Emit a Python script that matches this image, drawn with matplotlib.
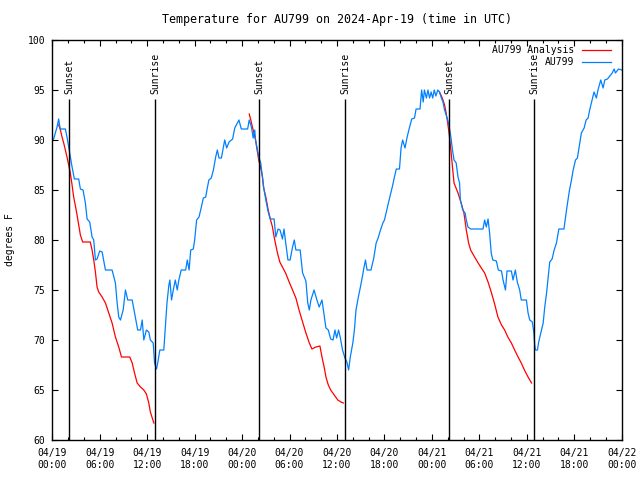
import numpy as np
import pandas as pd
import matplotlib
matplotlib.use("Agg")
import matplotlib.pyplot as plt
import matplotlib.dates as mdates

# hours after 2024-04-19 00:00 UTC, temperatures in degrees F
start = pd.Timestamp("2024-04-19 00:00")

obs_hours = [0.0, 0.17, 0.6, 0.8, 1.0, 1.65, 1.86, 2.07, 2.28, 2.5, 2.79, 3.34, 3.55, 3.89, 4.18, 4.4,
             4.73, 5.03, 5.24, 5.45, 5.66, 6.0, 6.3, 6.72, 7.56, 7.98, 8.2, 8.4, 8.62, 8.96, 9.25, 9.54,
             10.1, 10.5, 10.8, 11.15, 11.37, 11.57, 11.9, 12.2, 12.4, 12.76, 12.93, 13.18, 13.35, 13.6,
             14.1, 14.3, 14.5, 14.74, 14.87, 15.08, 15.3, 15.55, 15.8, 16.0, 16.3, 16.86, 17.07, 17.3,
             17.5, 17.83, 18.0, 18.25, 18.55, 18.85, 19.1, 19.4, 19.6, 19.8, 20.1, 20.37, 20.66, 20.87,
             21.08, 21.38, 21.63, 21.8, 22.05, 22.35, 22.8, 23.07, 23.4, 23.6, 23.9, 24.7, 24.9, 25.18,
             25.4, 25.6, 25.7, 25.9, 26.1, 26.36, 26.58, 26.78, 27.0, 27.3, 27.55, 28.05, 28.26, 28.55,
             28.8, 29.1, 29.3, 29.5, 29.8, 30.07, 30.38, 30.6, 30.8, 31.34, 31.65, 32.07, 32.3, 32.5,
             32.7, 33.1, 33.46, 33.75, 34.1, 34.4, 34.6, 34.9, 35.2, 35.5, 35.74, 35.95, 36.2, 36.4,
             36.7, 37.0, 37.25, 37.47, 37.68, 38.0, 38.2, 38.4, 38.7, 38.96, 39.2, 39.4, 39.6, 39.8,
             40.3, 40.65, 40.95, 41.2, 41.5, 41.8, 42.0, 42.2, 42.5, 42.75, 43.05, 43.26, 43.5, 43.9,
             44.1, 44.3, 44.6, 44.87, 45.15, 45.45, 45.8, 46.0, 46.5, 46.7, 46.9, 47.05, 47.3, 47.5,
             47.7, 47.9, 48.1, 48.3, 48.5, 48.75, 48.96, 49.2, 49.4, 49.6, 50.0, 50.2, 50.4, 50.6,
             50.8, 51.07, 51.3, 51.5, 51.6, 51.9, 52.2, 52.35, 52.56, 52.9, 54.46, 54.67, 54.88, 55.1,
             55.3, 55.5, 55.7, 56.15, 56.4, 56.8, 57.0, 57.3, 57.5, 58.05, 58.26, 58.55, 58.8, 59.1,
             59.3, 59.95, 60.16, 60.37, 60.7, 60.9, 61.0, 61.1, 61.35, 61.5, 61.77, 62.07, 62.27, 62.5,
             62.7, 62.9, 63.2, 63.46, 63.75, 64.05, 64.7, 64.9, 65.15, 65.4, 65.65, 65.86, 66.16, 66.4,
             66.7, 66.9, 67.25, 67.5, 67.75, 67.95, 68.25, 68.5, 68.8, 69.0, 69.35, 69.65, 69.86, 70.2,
             70.8, 71.05, 71.2, 71.6, 72.0]
obs_temps = [90.0, 90.1, 91.3, 92.1, 91.1, 91.1, 90.3, 89.3, 88.3, 87.3, 86.1, 86.1, 85.1, 85.0, 83.7, 82.1,
             81.8, 80.3, 80.0, 78.0, 78.1, 78.9, 78.8, 77.0, 77.0, 75.7, 73.7, 72.3, 72.0, 73.0, 75.0, 74.0,
             74.0, 72.3, 71.0, 71.0, 72.0, 70.0, 71.0, 70.8, 70.0, 69.7, 67.7, 67.1, 67.8, 69.0,
             69.0, 71.3, 73.7, 75.5, 76.0, 74.0, 75.0, 76.0, 75.0, 76.0, 77.0, 77.0, 78.0, 77.0,
             79.0, 79.1, 80.0, 82.0, 82.3, 83.3, 84.2, 84.3, 85.2, 86.0, 86.2, 87.0, 88.3, 89.0,
             88.2, 88.2, 89.3, 90.0, 89.2, 89.8, 90.1, 91.2, 91.7, 92.0, 91.1, 91.1, 92.0, 91.3,
             90.2, 91.0, 90.0, 89.2, 88.3, 87.7, 86.2, 85.0, 84.0, 82.8, 82.1, 82.1, 80.3, 81.1,
             81.0, 80.1, 81.1, 79.8, 78.0, 78.0, 79.3, 80.0, 79.0, 79.0, 76.7, 75.9, 73.7, 73.0,
             74.0, 75.0, 74.0, 73.3, 74.0, 72.3, 71.2, 71.0, 70.1, 70.0, 71.0, 70.2, 71.0, 70.3,
             69.0, 68.2, 67.8, 67.0, 68.3, 69.7, 71.0, 73.0, 74.3, 75.3, 76.3, 77.2, 78.0, 77.0,
             77.0, 78.2, 79.7, 80.2, 81.0, 81.7, 82.0, 82.7, 83.7, 84.5, 85.5, 86.3, 87.1, 87.1,
             89.2, 90.0, 89.2, 90.3, 91.2, 92.1, 92.2, 93.1, 93.1, 95.0, 93.8, 95.0, 94.2, 95.0,
             94.2, 94.8, 94.2, 95.0, 94.4, 95.0, 94.8, 94.2, 93.8, 93.0, 92.0, 91.3, 90.3, 89.0,
             88.0, 87.7, 86.3, 85.7, 84.0, 83.0, 82.7, 82.0, 81.3, 81.1, 81.1, 82.0, 81.3, 82.1,
             80.7, 78.7, 78.0, 77.9, 77.0, 76.9, 76.0, 75.0, 76.9, 76.9, 76.0, 77.0, 75.8, 75.0,
             74.0, 74.0, 72.7, 72.0, 71.8, 70.7, 69.5, 69.0, 69.0, 69.8, 70.7, 71.7, 73.3, 74.7,
             76.3, 77.8, 78.1, 79.0, 79.7, 81.1, 81.1, 82.3, 83.7, 85.0, 86.0, 87.0, 88.0, 88.2,
             89.7, 90.7, 91.2, 92.0, 92.2, 93.0, 94.0, 94.8, 94.2, 95.0, 96.0, 95.2, 96.0, 96.1,
             96.7, 97.1, 96.7, 97.1, 97.0]

# analysis: three separate night-time segments
ana1_hours = [0.8, 1.0, 1.23, 1.44, 1.65, 1.86, 2.07, 2.28, 2.5, 2.7, 2.9, 3.13, 3.34, 3.55, 3.84, 4.8,
              5.03, 5.24, 5.45, 5.66, 5.87, 6.3, 6.72, 7.14, 7.56, 7.98, 8.4, 8.75, 9.25, 9.8, 10.1,
              10.4, 10.73, 11.15, 11.57, 11.9, 12.2, 12.4, 12.64, 12.84]
ana1_temps = [91.5, 91.1, 90.3, 89.7, 89.0, 88.3, 87.5, 86.7, 85.5, 84.3, 83.5, 82.5, 81.5, 80.5, 79.8, 79.8,
              79.0, 78.0, 76.8, 75.3, 74.8, 74.3, 73.7, 72.7, 71.7, 70.3, 69.3, 68.3, 68.3, 68.3, 67.7,
              66.7, 65.7, 65.3, 65.0, 64.6, 63.7, 62.8, 62.2, 61.7]
ana2_hours = [24.9, 25.1, 25.3, 25.5, 25.7, 25.9, 26.1, 26.36, 26.58, 26.7, 27.0, 27.3, 27.6, 27.84, 28.05,
              28.26, 28.47, 28.77, 29.1, 29.5, 29.95, 30.38, 30.8, 31.2, 31.65, 32.07, 32.5, 32.83, 33.33,
              33.84, 34.1, 34.4, 34.6, 34.9, 35.2, 35.65, 36.1, 36.5, 36.8]
ana2_temps = [92.6, 92.0, 91.3, 90.7, 90.0, 89.0, 88.0, 87.2, 86.3, 85.3, 84.3, 83.0, 82.0, 81.3, 80.3,
              79.5, 78.7, 77.8, 77.3, 76.7, 75.8, 75.0, 74.2, 73.0, 71.8, 70.7, 69.7, 69.1, 69.3,
              69.4, 68.3, 67.2, 66.3, 65.5, 65.0, 64.5, 64.0, 63.8, 63.7]
ana3_hours = [48.96, 49.2, 49.4, 49.6, 49.8, 50.0, 50.2, 50.4, 50.6, 50.8, 51.3, 51.7, 52.05, 52.35, 52.64,
              52.9, 53.4, 53.85, 54.25, 54.67, 55.1, 55.5, 55.9, 56.35, 56.8, 57.2, 57.6, 58.05, 58.46,
              58.9, 59.3, 59.7, 60.16, 60.6]
ana3_temps = [94.8, 94.4, 94.0, 93.5, 92.7, 91.7, 90.5, 89.0, 87.3, 85.7, 84.7, 83.7, 82.7, 81.0, 79.7,
              79.0, 78.3, 77.7, 77.2, 76.7, 75.8, 74.8, 73.7, 72.3, 71.5, 71.0, 70.3, 69.7, 69.0,
              68.3, 67.7, 67.0, 66.3, 65.7]

sun_hours = [2.15, 13.02, 26.18, 37.05, 50.2, 60.95]
sun_labels = ["Sunset", "Sunrise", "Sunset", "Sunrise", "Sunset", "Sunrise"]


def to_time(hours):
    return start + pd.to_timedelta(hours, unit="h")


plt.rcParams["font.family"] = ["DejaVu Sans Mono"]
plt.rcParams["font.size"] = 7

fig = plt.figure(figsize=(6.4, 4.8), dpi=100)
ax = fig.add_axes([52.3 / 640, 40 / 480, 569.4 / 640, 400 / 480])

ana_nan = [np.nan]
ana_h = ana1_hours + ana_nan + ana2_hours + ana_nan + ana3_hours
ana_t = ana1_temps + ana_nan + ana2_temps + ana_nan + ana3_temps

ax.plot(to_time(ana_h), ana_t, color="#ff0000", lw=0.9, label="AU799 Analysis")
ax.plot(to_time(obs_hours), obs_temps, color="#0080ff", lw=0.9, label="AU799")

ax.vlines(to_time(sun_hours), 60, 94.1, color="black", lw=1.0)
for h, lab in zip(sun_hours, sun_labels):
    ax.text(to_time(h), 94.6, lab, rotation=90, ha="center", va="bottom")

ax.set_xlim(start, start + pd.Timedelta(hours=72))
ax.set_ylim(60, 100)
ax.set_yticks(range(60, 101, 5))
ax.xaxis.set_major_locator(mdates.HourLocator(byhour=range(0, 24, 6)))
ax.xaxis.set_minor_locator(mdates.HourLocator(interval=2))
ax.xaxis.set_major_formatter(mdates.DateFormatter("%m/%d\n%H:%M"))

ax.tick_params(axis="both", which="both", direction="in", top=True, right=True, width=0.8)
ax.tick_params(axis="both", which="major", length=4)
ax.tick_params(axis="x", which="minor", length=2.5)
ax.tick_params(axis="y", pad=5)
ax.tick_params(axis="x", pad=6)
for s in ax.spines.values():
    s.set_linewidth(1.0)

ax.set_ylabel("degrees F", labelpad=9)
ax.set_title("Temperature for AU799 on 2024-Apr-19 (time in UTC)", pad=12)

ax.legend(loc="upper right", bbox_to_anchor=(1 - 11 / 569.4, 1 - 5 / 400), frameon=False,
          markerfirst=False, handlelength=3.0, borderaxespad=0, borderpad=0,
          labelspacing=0.25, handletextpad=0.8)

fig.savefig("out.png", dpi=100)
